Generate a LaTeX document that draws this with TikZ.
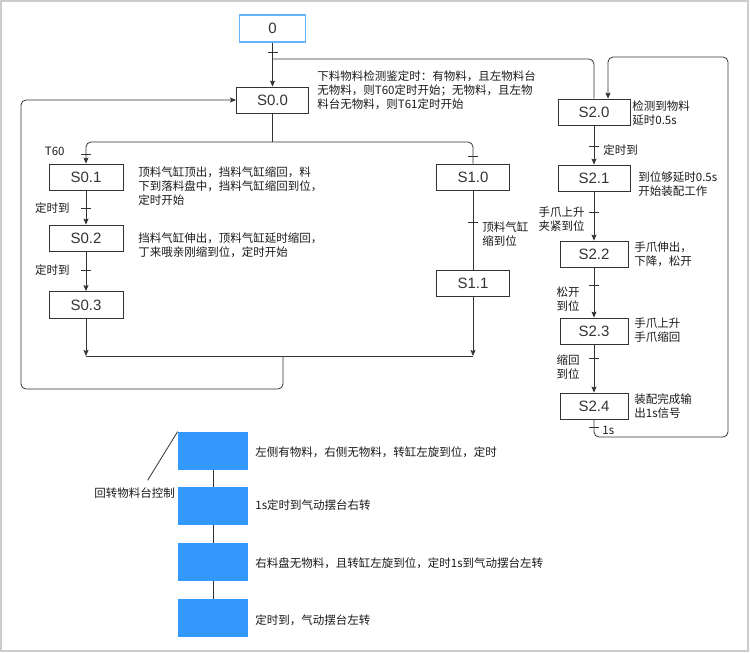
\documentclass[tikz,border=0pt]{standalone}
\usepackage{fontspec}
\setmainfont{Liberation Sans}
\newfontfamily\cjk{Noto Sans CJK SC}
\usetikzlibrary{arrows.meta}
\definecolor{startblue}{RGB}{102,178,255}
\definecolor{flowblue}{RGB}{51,153,255}
\tikzset{
  stepbox/.style={draw, minimum width=72pt, minimum height=26pt, inner sep=0pt, font=\fontsize{15}{18}\selectfont},
  note/.style={anchor=north west, inner sep=0pt, align=left, text=black!90, font=\cjk\fontsize{11.5}{14}\selectfont},
  cond/.style={note, anchor=north east},
  bluebox/.style={fill=flowblue, minimum width=70pt, minimum height=38pt, inner sep=0pt}
}
\begin{document}
\begin{tikzpicture}[x=1pt, y=-1pt, >={Stealth[length=6pt, width=5pt, inset=1pt]}, line width=0.8pt, black!80]
	\useasboundingbox (0,0) rectangle (750,653);
	\draw[gray!40, line width=1.5pt] (1,1) rectangle (748,651);
	\node[stepbox, draw=startblue, line width=1.2pt, minimum width=66pt, minimum height=27pt] (n0) at (272.5,28.5) {0};
	\node[stepbox] (s00) at (272.5,100) {S0.0};
	\node[stepbox, minimum width=74pt] (s01) at (86,177) {S0.1};
	\node[stepbox, minimum width=74pt] (s02) at (86,238) {S0.2};
	\node[stepbox, minimum width=74pt, minimum height=27pt] (s03) at (86,305) {S0.3};
	\node[stepbox, minimum width=73pt] (s10) at (473,177) {S1.0};
	\node[stepbox, minimum width=73pt] (s11) at (473,283) {S1.1};
	\node[stepbox] (s20) at (594,112) {S2.0};
	\node[stepbox] (s21) at (594,178) {S2.1};
	\node[stepbox, minimum width=68pt] (s22) at (594,254) {S2.2};
	\node[stepbox, minimum width=68pt] (s23) at (594,331) {S2.3};
	\node[stepbox, minimum width=68pt] (s24) at (594,406) {S2.4};
	\coordinate (tp) at (272.5,59);
	\coordinate (sp) at (272.5,142);
	\coordinate (jl) at (86,356);
	\coordinate (jr) at (473,356);
	\coordinate (jc) at (283,356);
	\coordinate (rl) at (728,437);
	\coordinate (s20in) at (608,57);
	\draw[->] (n0) -- (s00);
	\draw[rounded corners=5] (tp) -| (s20.north);
	\draw (s00) -- (sp);
	\draw[->, rounded corners=5] (sp) -| (s01.north);
	\draw[rounded corners=5] (sp) -| (s10.north);
	\draw[->] (s01) -- (s02);
	\draw[->] (s02) -- (s03);
	\draw[->] (s03) -- (jl);
	\draw (s10) -- (s11);
	\draw[->] (s11) -- (jr);
	\draw (jl) -- (jr);
	\draw[->, rounded corners=5] (jc) |- (21,389) |- (s00.west);
	\foreach \a/\b in {s20/s21, s21/s22, s22/s23, s23/s24}
		\draw[->] (\a) -- (\b);
	\draw[->, rounded corners=5] (s24) |- (rl) |- (s20in) -- (s20in |- s20.north);
	\foreach \x/\y in {272.5/52, 86/154, 473/156, 86/208, 86/270, 473/222, 594/146, 594/212, 594/285, 594/358, 594/427}
		\draw (\x-5,\y) -- (\x+5,\y);
	\node[note] (d00) at (317,70.5) {下料物料检测鉴定时：有物料，且左物料台\\无物料，则T60定时开始；无物料，且左物\\料台无物料，则T61定时开始};
	\node[note] (d01) at (138,166.5) {顶料气缸顶出，挡料气缸缩回，料\\下到落料盘中，挡料气缸缩回到位，\\定时开始};
	\node[note] (d02) at (138,232.5) {挡料气缸伸出，顶料气缸延时缩回，\\丁来哦亲刚缩到位，定时开始};
	\node[note] (d10) at (482,221.5) {顶料气缸\\缩到位};
	\node[note] (d20) at (632,100.5) {检测到物料\\延时0.5s};
	\node[note] (d21) at (638,171.5) {到位够延时0.5s\\开始装配工作};
	\node[note] (d22) at (634,241) {手爪伸出，\\下降，松开};
	\node[note] (d23) at (634,317.5) {手爪上升\\手爪缩回};
	\node[note] (d24) at (634,393) {装配完成输\\出1s信号};
	\node[note] (t21) at (603,144) {定时到};
	\node[note] (t25) at (602,426) {1s};
	\node[cond] (t00) at (65,146.5) {T60};
	\node[cond] (t01) at (70,202.5) {定时到};
	\node[cond] (t02) at (70,264.5) {定时到};
	\node[cond] (t22) at (585,206.5) {手爪上升\\夹紧到位};
	\node[cond] (t23) at (580,286) {松开\\到位};
	\node[cond] (t24) at (580,354) {缩回\\到位};
	\node[bluebox] (b1) at (213,451) {};
	\node[bluebox] (b2) at (213,506) {};
	\node[bluebox] (b3) at (213,562) {};
	\node[bluebox] (b4) at (213,618) {};
	\foreach \a/\b in {b1/b2, b2/b3, b3/b4}
		\draw (\a) -- (\b);
	\node[note, anchor=west] (e1) at (255,452) {左侧有物料，右侧无物料，转缸左旋到位，定时};
	\node[note, anchor=west] (e2) at (255,505) {1s定时到气动摆台右转};
	\node[note, anchor=west] (e3) at (255,563) {右料盘无物料，且转缸左旋到位，定时1s到气动摆台左转};
	\node[note, anchor=west] (e4) at (255,620) {定时到，气动摆台左转};
	\node[note, anchor=west] (lbl) at (94,493) {回转物料台控制};
	\draw ([xshift=13pt, yshift=7pt]lbl.north) -- (b1.north west);
\end{tikzpicture}
\end{document}
